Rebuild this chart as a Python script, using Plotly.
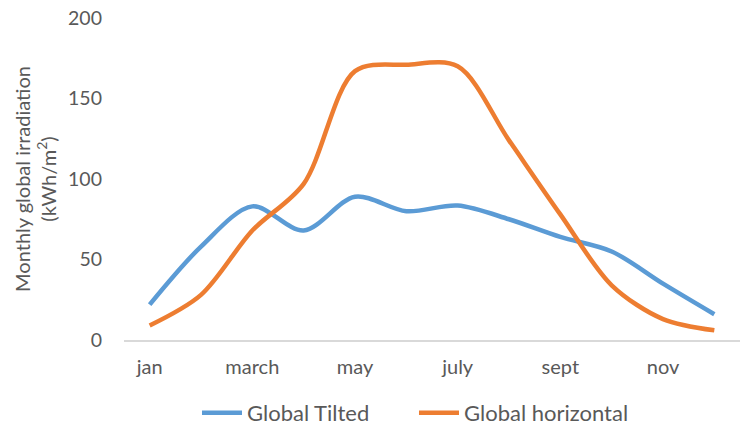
import plotly.graph_objects as go

months = ["jan", "feb", "march", "april", "may", "june", "july", "aug", "sept", "oct", "nov", "dec"]
tick_labels = ["jan", "march", "may", "july", "sept", "nov"]
global_tilted = [22, 58, 83, 68, 89, 80, 83.5, 75, 64, 55, 35, 16]
global_horizontal = [9, 28, 68, 97, 167, 171, 170, 124, 78, 34, 13, 6]

font_family = "Lato, 'Noto Sans', sans-serif"
grey = "#595959"

fig = go.Figure()
fig.add_trace(go.Scatter(x=months, y=global_tilted, mode="lines", name="Global Tilted",
                         line=dict(color="#5B9BD5", width=4.5, shape="spline", smoothing=0.9)))
fig.add_trace(go.Scatter(x=months, y=global_horizontal, mode="lines", name="Global horizontal",
                         line=dict(color="#ED7D31", width=4.5, shape="spline", smoothing=0.9)))

fig.update_layout(
    width=746, height=428,
    margin=dict(l=124, r=6, t=18, b=88, autoexpand=False),
    paper_bgcolor="white", plot_bgcolor="white",
    font=dict(family=font_family, color=grey, size=19),
    showlegend=True,
    legend=dict(orientation="h", x=0.1185, xanchor="left", xref="paper",
                y=0.035, yanchor="middle", yref="container",
                font=dict(size=22, color=grey), itemwidth=40, entrywidth=162),
)
fig.update_xaxes(type="category", tickvals=tick_labels, ticktext=tick_labels,
                 showgrid=False, showline=True, linecolor="#D9D9D9", linewidth=1.5,
                 ticks="", ticklabelstandoff=8, tickfont=dict(size=20, color=grey),
                 range=[-0.5, 11.5], zeroline=False, automargin=False)
fig.update_yaxes(range=[0, 200], tickvals=[0, 50, 100, 150, 200], showgrid=False,
                 showline=False, zeroline=False, ticks="", ticklabelstandoff=21,
                 tickfont=dict(size=19.5, color=grey), automargin=False,
                 title=dict(text="Monthly global irradiation<br>(kWh/m<sup>2</sup>)",
                            font=dict(size=20, color=grey), standoff=6))

fig.write_html("out.html")
